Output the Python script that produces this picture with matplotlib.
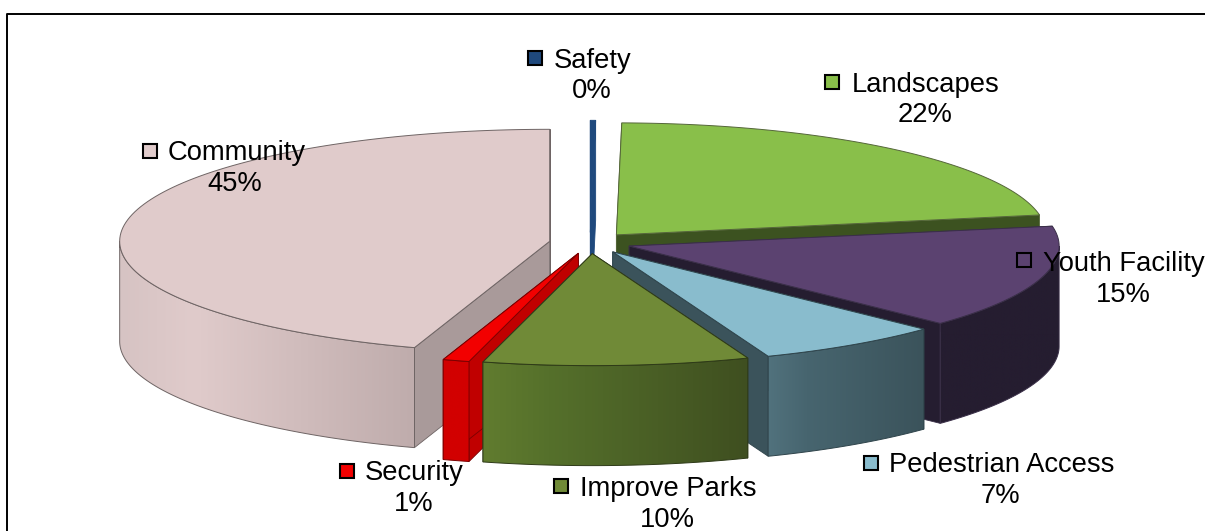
import numpy as np
import matplotlib
matplotlib.use("Agg")
import matplotlib.pyplot as plt
from matplotlib.colors import LinearSegmentedColormap
from matplotlib.patches import Polygon

plt.rcParams["font.family"] = ["Liberation Sans", "DejaVu Sans"]

# clockwise from 12 o'clock
categories = ["Safety", "Landscapes", "Youth Facility", "Pedestrian Access",
              "Improve Parks", "Security", "Community"]
values = [0.2, 22, 15, 7, 10, 1, 45]

top_colors = ["#1F497D", "#89BF4A", "#5B4270", "#89BCCD", "#708A37", "#F20000", "#E0CBCB"]
cut_colors = ["#1F497D", "#3C5220", "#251D30", "#3B535B", "#3F4F20", "#C00000", "#A99A9A"]
wall_colors = [
    ["#1F497D", "#1F497D", "#1F497D"],
    ["#3C5220", "#3C5220", "#3C5220"],
    ["#251D30", "#251D30", "#251D30"],
    ["#51727D", "#47656F", "#3B535B"],
    ["#617C2F", "#55702B", "#3F4F20"],
    ["#D20000", "#D20000", "#D20000"],
    ["#D6C3C3", "#E0CBCB", "#BFACAC"],
]
edge_colors = ["#1F497D", "#55663A", "#3A2F48", "#2F444B", "#2E3A18", "#7A0000", "#6E6464"]

# back to front
draw_order = [0, 1, 6, 2, 3, 5, 4]

# marker centre, text left edge, first baseline, second line centre x, second baseline
label_pos = {
    "Safety": (535, 58, 554, 68, 592, 98),
    "Landscapes": (832, 82, 852, 92, 925, 122),
    "Youth Facility": (1024, 260, 1043, 271, 1123, 302),
    "Pedestrian Access": (871, 463, 889, 472, 1000, 503),
    "Improve Parks": (561, 486, 580, 496, 667, 527),
    "Security": (347, 471, 365, 480, 414, 511),
    "Community": (150, 151, 168, 160, 235, 191),
}

cx, cy = 590, 243
rx, ry = 430, 112
depth = 100
explode = 0.095
FS = 19.7


def rim(c, t):
    t = np.radians(t)
    return c[0] + rx * np.sin(t), c[1] - ry * np.cos(t)


fig = plt.figure(figsize=(12.05, 5.31), dpi=100)
ax = fig.add_axes([0, 0, 1, 1])

ax.plot([7, 7, 1205], [531, 14, 14], color="black", lw=1.4, zorder=1)

angles = np.concatenate([[0], np.cumsum(values) / np.sum(values) * 360])

z = 2
for i in draw_order:
    t0, t1 = angles[i], angles[i + 1]
    mid = np.radians((t0 + t1) / 2)
    c = (cx + explode * rx * np.sin(mid), cy - explode * ry * np.cos(mid))

    # radial cut faces
    for t in (t0, t1):
        x, y = rim(c, t)
        ax.fill([c[0], x, x, c[0]], [c[1], y, y + depth, c[1] + depth],
                fc=cut_colors[i], ec=edge_colors[i], lw=0.6, zorder=z)

    # outer wall, only the part turned towards the viewer
    a = max(t0, 90)
    b = min(t1, 270)
    if b > a:
        ts = np.linspace(a, b, 120)
        xs, ys = rim(c, ts)
        outline = np.c_[np.r_[xs, xs[::-1]], np.r_[ys, ys[::-1] + depth]]
        cmap = LinearSegmentedColormap.from_list(
            "wall", [(0, wall_colors[i][0]), (0.25, wall_colors[i][1]), (1, wall_colors[i][2])])
        im = ax.imshow(np.linspace(0, 1, 256).reshape(1, -1), cmap=cmap, aspect="auto",
                       extent=(xs.min(), xs.max(), ys.max() + depth, ys.min()), zorder=z)
        wall = Polygon(outline, closed=True, fc="none", ec=edge_colors[i], lw=0.7, zorder=z)
        ax.add_patch(wall)
        im.set_clip_path(wall)

    # top face
    ts = np.linspace(t0, t1, 120)
    xs, ys = rim(c, ts)
    ax.fill(np.r_[c[0], xs], np.r_[c[1], ys], fc=top_colors[i], ec=edge_colors[i], lw=0.7, zorder=z)
    z += 1

for i, name in enumerate(categories):
    mx, my, tx, ty, px, py = label_pos[name]
    ax.plot(mx, my, marker="s", ms=9.5, mfc=top_colors[i], mec="black", mew=1.5, zorder=20)
    ax.text(tx, ty, name, fontsize=FS, ha="left", va="baseline", color="black", zorder=21)
    ax.text(px, py, f"{round(values[i])}%", fontsize=FS, ha="center", va="baseline", color="black", zorder=21)

ax.set_xlim(0, 1205)
ax.set_ylim(531, 0)
ax.axis("off")

fig.savefig("out.png", dpi=100)
